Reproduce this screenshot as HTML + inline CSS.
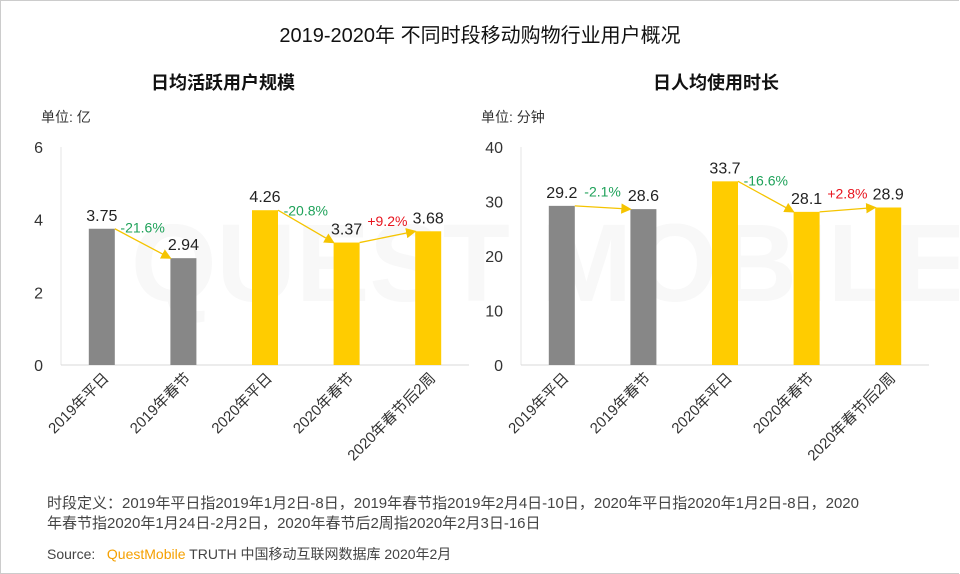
<!DOCTYPE html>
<html><head><meta charset="utf-8"><style>
body{margin:0;background:#fff}
#wrap{position:relative;width:958px;height:572px;border:1px solid #ccc;border-right:none;overflow:hidden;font-family:"Liberation Sans","Noto Sans CJK SC",sans-serif}
.t{position:absolute;white-space:nowrap;color:#222}
</style></head><body>
<div id="wrap">
<div class="t" style="left:0;width:958px;text-align:center;top:18px;font-size:20px;color:#111">2019-2020年 不同时段移动购物行业用户概况</div>
<div class="t" style="left:150px;top:68px;font-size:18px;font-weight:bold;color:#111">日均活跃用户规模</div>
<div class="t" style="left:652px;top:68px;font-size:18px;font-weight:bold;color:#111">日人均使用时长</div>
<div class="t" style="left:40px;top:106px;font-size:14px;color:#333">单位: 亿</div>
<div class="t" style="left:480px;top:106px;font-size:14px;color:#333">单位: 分钟</div>
<svg id="svg" width="958" height="572" style="position:absolute;left:0;top:0">
<defs><marker id="ah" markerWidth="8" markerHeight="8" refX="7" refY="4" orient="auto"><path d="M0,0L8,4L0,8Z" fill="#F5C400"/></marker></defs>
<text x="130" y="300" font-size="110" font-family="Liberation Sans" fill="#f8f8f8" font-weight="bold">QUEST MOBILE</text>
</svg>
<div class="t" style="left:46px;top:493px;font-size:15px;color:#444;line-height:20px;white-space:normal;width:818px">时段定义：2019年平日指2019年1月2日-8日，2019年春节指2019年2月4日-10日，2020年平日指2020年1月2日-8日，2020年春节指2020年1月24日-2月2日，2020年春节后2周指2020年2月3日-16日</div>
<div class="t" style="left:46px;top:543px;font-size:14px;color:#444">Source:&nbsp;&nbsp; <span style="color:#F5A000">QuestMobile</span> TRUTH 中国移动互联网数据库 2020年2月</div>
</div>
<script>
const categories=["2019年平日","2019年春节","2020年平日","2020年春节","2020年春节后2周"];
const dauValues=[3.75,2.94,4.26,3.37,3.68];
const timeValues=[29.2,28.6,33.7,28.1,28.9];
const dauTicks=[0,2,4,6];
const timeTicks=[0,10,20,30,40];
const dauChanges=["-21.6%","-20.8%","+9.2%"];
const timeChanges=["-2.1%","-16.6%","+2.8%"];
const barColors=["#878787","#878787","#FFCC00","#FFCC00","#FFCC00"];
const changePairs=[[0,1],[2,3],[3,4]];
const svg=document.getElementById('svg');
const NS='http://www.w3.org/2000/svg';
function mk(tag,attrs){const e=document.createElementNS(NS,tag);for(const k in attrs)e.setAttribute(k,attrs[k]);svg.appendChild(e);return e;}
function chart(prefix,x0,x1,yMax,ticks,vals,changes){
  const y0=364,yTop=146;
  const ys=v=>y0-(v/yMax)*(y0-yTop);
  const step=(x1-x0)/categories.length;
  const xc=i=>x0+step*(i+0.5);
  let l=mk('line',{x1:x0,y1:yTop,x2:x0,y2:y0,stroke:'#e4e4e4'});
  
  l=mk('line',{x1:x0,y1:y0,x2:x1,y2:y0,stroke:'#d9d9d9'});
  
  ticks.forEach(t=>{const e=mk('text',{x:x0-18,y:ys(t)+6,'font-size':16,'text-anchor':'end',fill:'#333','font-family':'Liberation Sans'});e.textContent=t;
    });
  vals.forEach((v,i)=>{
    const r=mk('rect',{x:xc(i)-13,y:ys(v),width:26,height:y0-ys(v),fill:barColors[i]});
    
    const t=mk('text',{x:xc(i),y:ys(v)-8,'font-size':16,'text-anchor':'middle',fill:'#222','font-family':'Liberation Sans'});t.textContent=v;
    
    const lb=mk('text',{x:xc(i)+8,y:y0+14,'font-size':15,'text-anchor':'end',fill:'#333','font-family':'Liberation Sans, Noto Sans CJK SC, sans-serif',transform:`rotate(-45 ${xc(i)+8} ${y0+14})`});lb.textContent=categories[i];
    
  });
  changePairs.forEach((p,k)=>{
    const a=p[0],b=p[1];
    const ln=mk('line',{x1:xc(a)+13,y1:ys(vals[a]),x2:xc(b)-13,y2:ys(vals[b]),stroke:'#F5C400','stroke-width':1.3,'marker-end':'url(#ah)'});
    
    const neg=changes[k][0]=='-';
    const mx=(xc(a)+xc(b))/2, my=(ys(vals[a])+ys(vals[b]))/2;
    const t=mk('text',{x:mx,y:my-11,'font-size':14,'text-anchor':'middle',fill:neg?'#1FA25A':'#E8141E','font-family':'Liberation Sans'});t.textContent=changes[k];
    
  });
}
chart('dau',60,468,6,dauTicks,dauValues,dauChanges);
chart('time',520,928,40,timeTicks,timeValues,timeChanges);
</script>
</body></html>
